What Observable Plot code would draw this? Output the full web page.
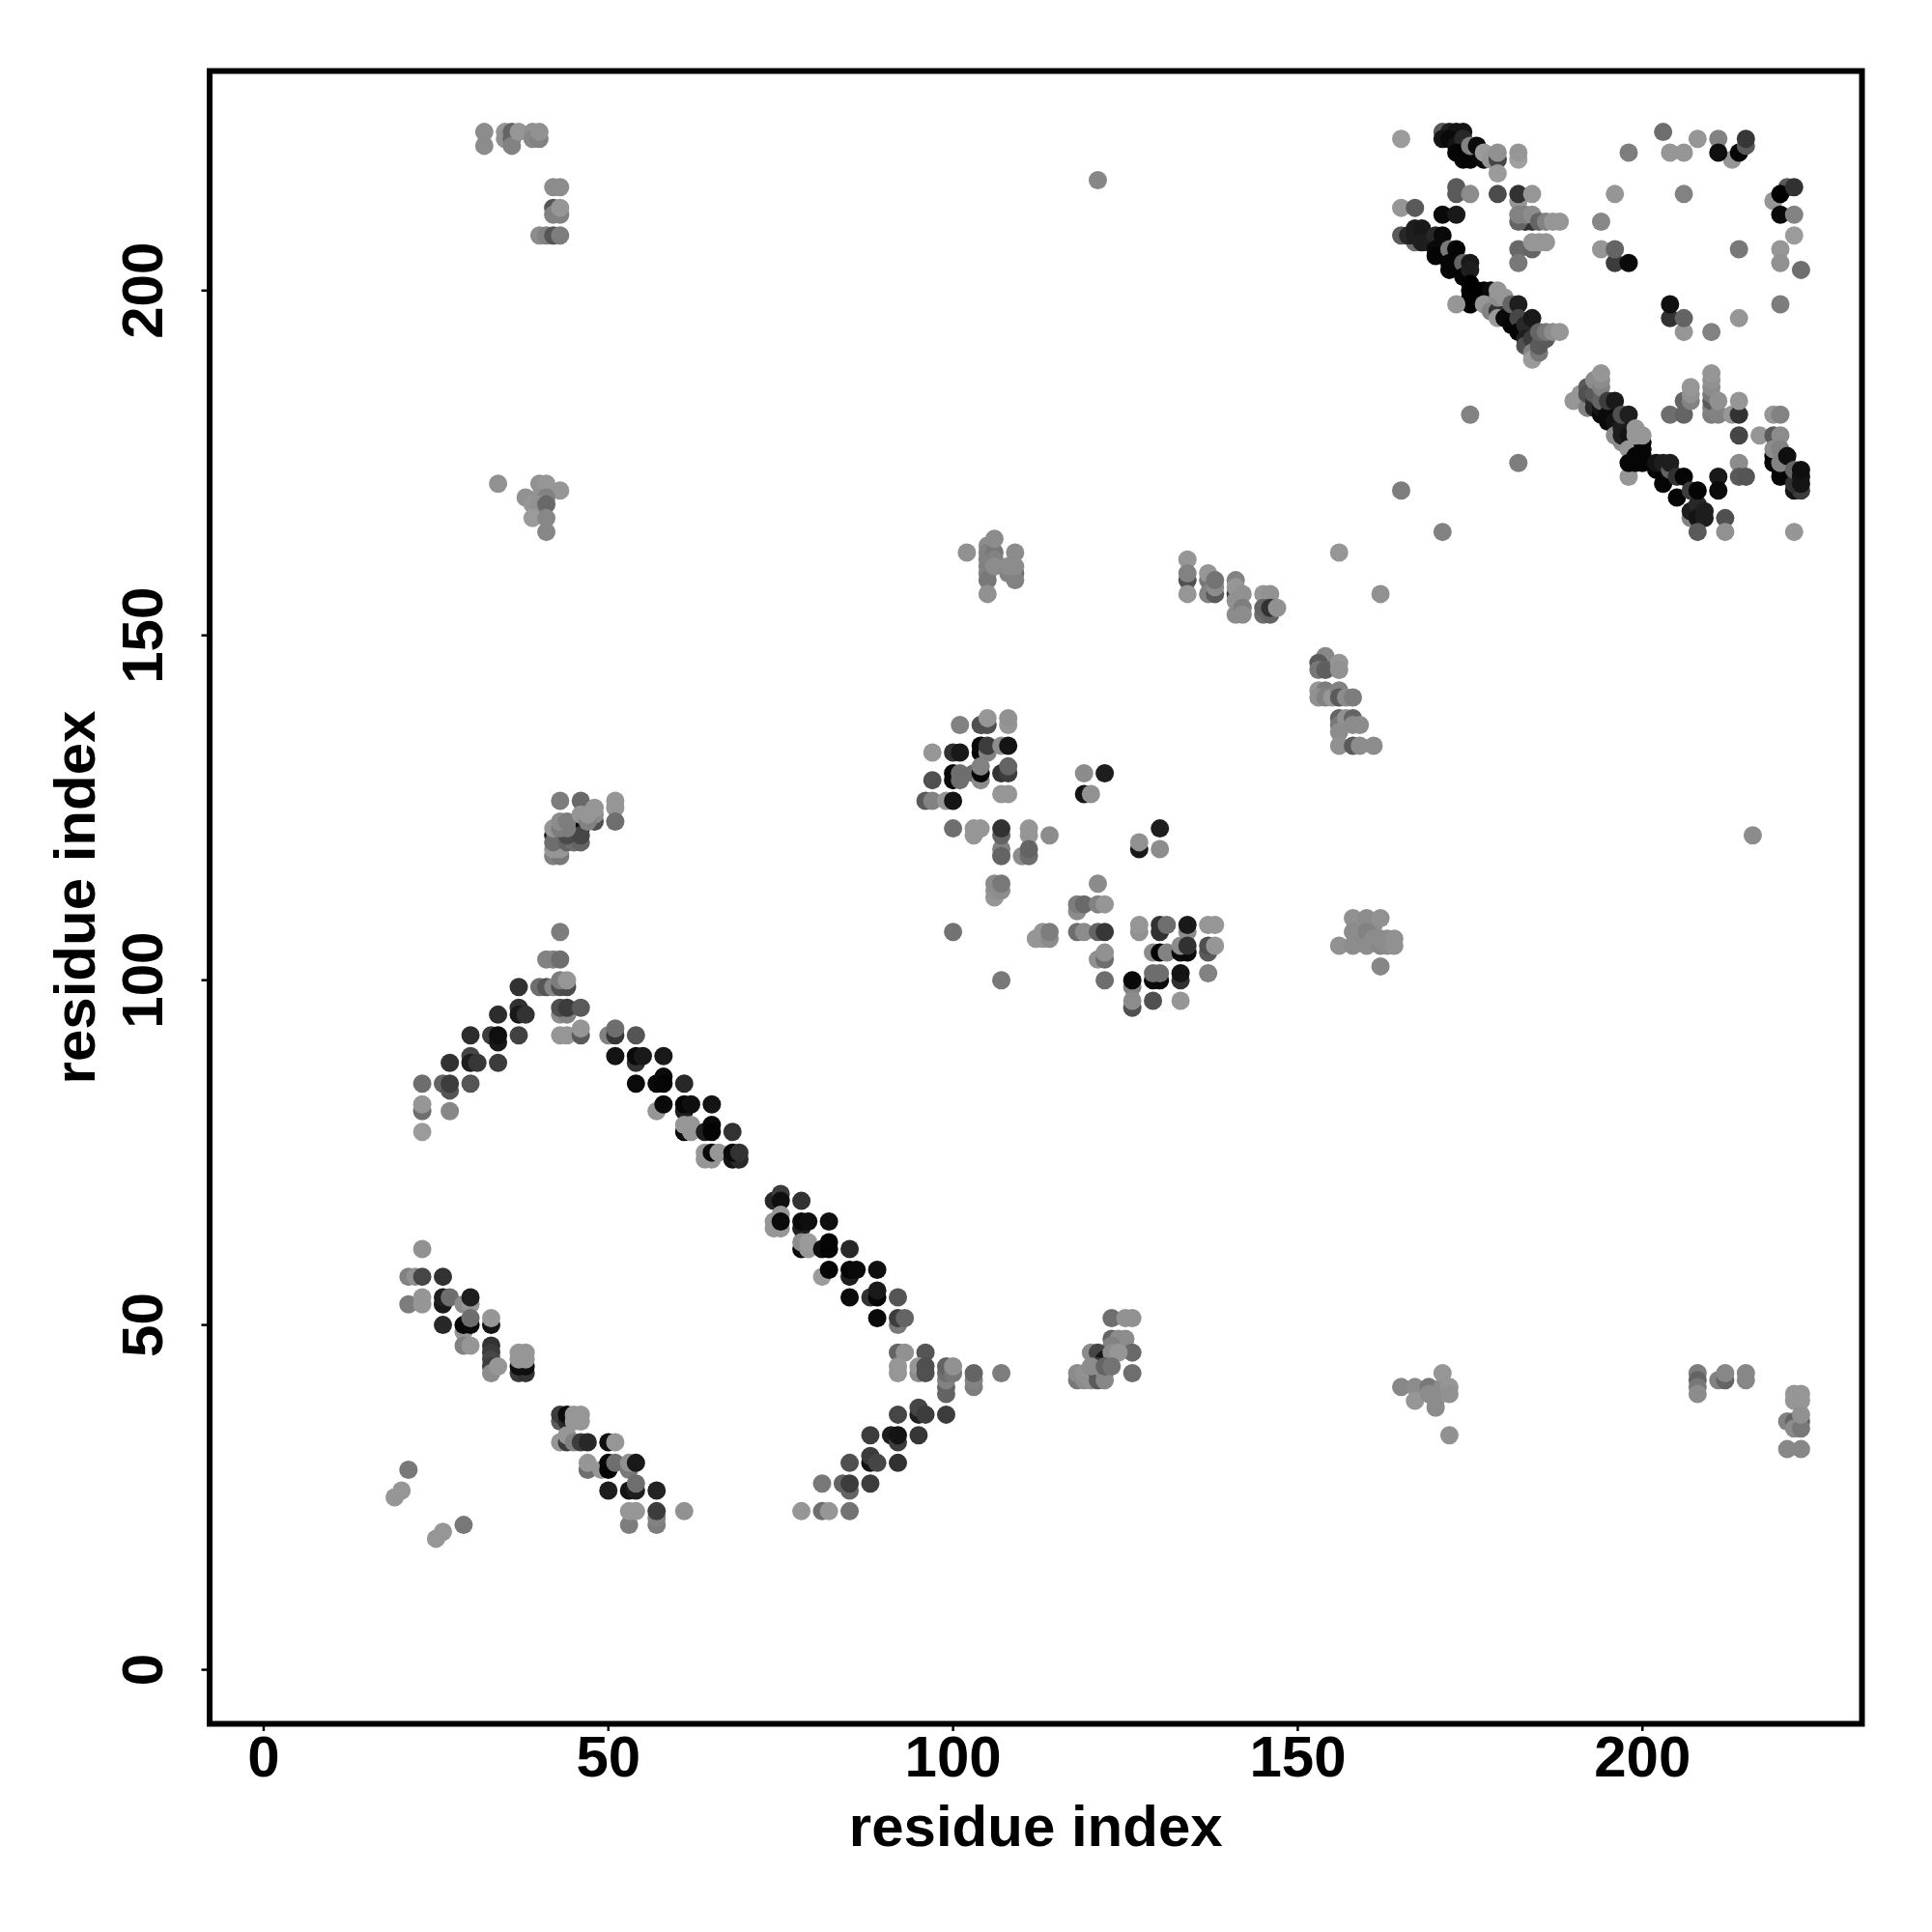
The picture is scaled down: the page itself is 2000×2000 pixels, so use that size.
<!DOCTYPE html>
<html>
<head>
<meta charset="utf-8">
<script src="https://cdn.jsdelivr.net/npm/d3@7"></script>
<script src="https://cdn.jsdelivr.net/npm/@observablehq/plot@0.6"></script>
<style>html,body{margin:0;padding:0;background:#fff}</style>
</head>
<body>
<div id="chart"></div>
<script>
// each entry: [residue i, residue j, distance signal (0 = strongest contact, 155 = weakest)]
const tickValues = [0, 50, 100, 150, 200];
const axisLabel = "residue index";

const topLeftA = [[32,223,140],[32,221,140],[35,223,150],[35,222,145],[36,223,100],[36,222,100],[36,221,130],[37,223,150],[39,223,145],[39,222,135],[40,222,130],[40,223,145],[42,215,140],[43,215,140],[42,212,85],[42,211,130],[43,211,130],[43,212,150],[40,208,140],[41,208,130],[42,208,85],[43,208,125]];
const topLeftB = [[34,172,145],[40,172,145],[41,172,150],[43,171,150],[38,170,145],[40,170,145],[41,170,130],[39,169,150],[40,169,145],[41,169,105],[39,167,155],[41,167,135],[41,165,135]];
const helixCorner = [[165,222,155],[171,223,90],[172,223,30],[173,223,20],[174,223,20],[171,222,20],[172,222,10],[173,221,20],[174,222,40],[173,220,5],[174,219,5],[175,219,5],[176,220,10],[175,221,130],[176,221,10],[177,219,10],[177,220,155],[178,219,150],[179,219,70],[179,220,145],[179,217,155],[182,219,160],[182,220,150],[173,215,90],[173,214,90],[175,214,140],[179,214,75],[182,213,150],[182,214,50],[184,214,150],[165,212,150],[167,212,90],[171,211,10],[173,211,25],[183,210,50],[184,210,50],[182,210,100],[182,211,130],[183,211,130],[184,211,140],[185,210,100],[186,210,130],[187,210,150],[188,210,150],[182,206,105],[184,206,100],[182,204,120],[184,207,150],[185,207,150],[186,207,150]];
const diagonalUpper = [[165,208,90],[167,207,110],[166,208,40],[167,208,30],[168,208,30],[167,209,30],[168,209,25],[168,207,30],[169,207,30],[170,208,40],[171,208,10],[170,206,10],[170,205,5],[172,206,120],[173,206,5],[172,204,5],[172,203,5],[174,204,100],[174,202,5],[175,204,25],[175,203,30],[175,201,0],[175,200,0],[175,199,0],[175,198,0],[176,200,0],[177,200,0],[178,200,10],[173,198,150],[177,198,150],[178,197,130],[179,197,50],[179,199,140],[179,200,150],[180,199,150],[179,196,155],[180,196,10],[181,195,5],[181,198,100],[182,198,30],[182,196,70],[182,194,5],[183,195,40],[183,193,30],[183,192,80],[184,196,25],[184,193,60],[184,191,130],[184,190,155],[185,191,120],[185,192,90],[186,193,90],[185,194,100],[186,194,120],[187,194,140],[188,194,150]];
const topRight = [[194,210,135],[198,220,125],[203,223,110],[208,222,150],[211,222,130],[204,220,150],[206,220,150],[213,219,150],[211,220,15],[214,220,5],[215,221,90],[215,222,55],[196,214,150],[206,214,130],[194,206,150],[196,204,60],[196,206,100],[198,204,10],[214,206,120],[206,194,150],[204,196,50],[206,196,100],[204,198,15],[210,194,130],[214,196,150],[219,213,150],[221,215,90],[220,214,0],[222,215,50],[220,211,10],[222,211,130],[222,208,155],[220,206,150],[220,204,145],[223,203,110],[220,198,125]];
const diagonalLower = [[190,184,150],[191,185,150],[192,183,130],[192,186,90],[192,185,80],[193,184,50],[193,183,40],[193,185,90],[193,187,140],[194,182,10],[194,183,20],[194,184,100],[194,186,130],[194,187,140],[194,188,150],[195,181,10],[195,182,10],[195,184,60],[196,184,25],[196,181,20],[196,179,140],[197,178,140],[197,179,30],[197,180,30],[197,182,80],[198,182,30],[198,179,20],[198,173,150],[198,177,150],[199,176,5],[199,175,5],[198,175,5],[200,178,5],[200,177,5],[200,176,5],[200,175,5],[199,180,150],[199,179,150],[200,179,150],[202,174,5],[202,175,20],[203,172,5],[203,175,30],[204,174,100],[204,175,30],[205,170,5],[205,173,50],[206,173,5],[207,167,130],[207,168,30],[207,171,60],[208,169,40],[208,167,20],[208,171,5],[209,168,30],[209,167,30],[208,165,90]];
const rightOfDiagonal = [[175,182,130],[182,175,125],[165,171,125],[171,165,130],[162,156,145],[156,162,150],[121,216,135],[216,121,140],[211,173,25],[211,171,10],[212,167,80],[212,165,145],[214,175,140],[214,173,90],[215,173,85],[222,165,150],[204,182,110],[206,182,100],[206,184,100],[207,184,130],[207,185,145],[207,186,150],[210,182,125],[210,183,130],[210,184,90],[210,185,120],[210,186,140],[210,187,145],[210,188,150],[211,182,130],[211,184,145],[213,182,150],[214,182,50],[214,184,150],[214,179,70],[217,179,150],[219,182,150],[220,182,130],[219,179,90],[220,179,140],[219,176,5],[219,175,5],[219,177,140],[220,174,10],[220,173,5],[220,175,130],[220,177,130],[221,176,15],[222,171,20],[223,171,60],[222,172,50],[222,174,100],[223,172,20],[223,173,20],[223,174,15]];
const midTop = [[102,162,145],[105,163,140],[105,162,130],[105,161,130],[105,160,130],[105,159,130],[105,158,120],[105,156,145],[106,162,120],[106,161,130],[106,160,140],[106,164,140],[109,162,140],[108,159,130],[109,159,110],[109,158,130],[108,160,140],[109,160,140],[134,161,150],[134,158,80],[134,159,130],[134,156,150],[137,158,120],[137,159,150],[137,156,130],[138,156,90],[138,157,140],[138,158,115],[141,156,60],[141,158,130],[141,157,150],[141,155,145],[142,156,145],[141,153,140],[142,154,125],[142,153,140],[145,156,150],[146,156,145],[145,153,110],[146,153,100],[145,154,100],[146,154,50],[147,154,145]];
const midCenter = [[101,137,130],[104,137,80],[105,137,80],[105,138,150],[108,137,150],[108,138,145],[97,133,150],[100,133,50],[101,133,25],[104,133,5],[104,134,10],[105,133,130],[105,134,60],[107,134,140],[108,134,20],[100,130,10],[100,129,10],[101,129,110],[101,130,110],[103,130,110],[104,129,140],[104,130,5],[104,131,130],[107,130,50],[108,130,60],[108,131,100],[107,127,150],[108,127,150],[97,129,80],[96,126,90],[97,126,130],[99,126,150],[100,126,20],[100,122,110],[103,121,150],[103,122,150],[104,122,150],[107,119,130],[107,118,100],[107,121,100],[107,122,50],[111,121,150],[111,122,150],[114,121,140],[110,118,140],[111,118,110],[111,119,100],[106,112,150],[106,113,145],[107,113,140],[106,114,140],[107,114,120],[100,107,115],[107,100,120],[112,106,150],[113,106,150],[113,107,150],[114,106,140],[114,107,125]];
const midRight = [[119,130,140],[122,130,30],[119,127,20],[120,127,145],[121,114,140],[118,110,140],[118,111,125],[119,111,105],[121,111,130],[122,111,150],[118,107,110],[119,107,140],[121,107,100],[122,107,55],[121,103,145],[122,103,110],[122,104,145],[122,100,110],[127,119,25],[127,120,145],[130,122,30],[130,119,140],[127,107,145],[127,108,150],[130,107,50],[130,108,50],[131,108,110],[134,107,140],[134,108,25],[137,108,150],[138,108,150],[129,104,140],[130,104,0],[131,104,130],[133,104,10],[134,104,10],[133,105,140],[134,105,50],[137,104,90],[137,105,80],[138,105,150],[137,101,130],[129,100,10],[130,100,10],[129,101,110],[130,101,110],[133,100,50],[133,101,20],[126,99,130],[126,100,10],[126,96,80],[126,97,140],[129,97,80],[133,97,150]];
const sheetCluster = [[154,146,30],[154,147,135],[153,146,90],[153,145,120],[154,145,95],[156,146,150],[156,145,145],[153,142,150],[154,142,125],[153,141,145],[154,141,130],[155,141,150],[156,142,130],[156,141,90],[157,141,140],[158,141,125],[156,138,100],[156,137,120],[157,138,145],[158,138,100],[158,137,140],[159,137,140],[156,136,140],[156,134,145],[158,134,90],[159,134,140],[161,134,140]];
const lowerMidCluster = [[158,109,145],[159,108,145],[160,109,140],[161,108,140],[162,109,145],[158,107,140],[159,106,140],[160,107,130],[156,105,145],[158,105,140],[160,105,140],[161,106,140],[162,105,135],[162,106,140],[163,105,140],[163,106,140],[164,105,145],[164,106,145],[162,102,135]];
const apexCluster = [[42,121,20],[43,121,30],[45,121,30],[46,122,15],[43,126,125],[46,126,105],[51,126,150],[51,125,150],[51,123,110],[48,123,80],[48,124,140],[48,125,150],[42,118,130],[43,118,120],[42,119,150],[43,119,150],[42,120,110],[44,120,100],[45,120,110],[46,120,100],[44,121,75],[46,121,70],[42,122,150],[43,122,125],[44,122,125],[43,123,140],[44,123,125],[46,124,150],[47,123,130],[47,124,150]];
const apexLower = [[43,107,125],[41,103,130],[42,103,130],[43,103,110],[37,99,50],[40,99,110],[41,99,85],[42,99,135],[43,99,80],[44,99,75],[43,100,125],[44,100,150],[43,95,140],[44,95,130],[43,96,80],[44,96,60],[46,96,90],[43,92,150],[44,92,150],[46,92,90],[46,93,150]];
const armLeft = [[34,95,45],[37,96,50],[37,95,25],[38,95,50],[30,92,45],[33,92,60],[34,91,25],[34,92,15],[37,92,65],[27,88,50],[30,89,70],[30,88,30],[31,88,55],[34,88,60],[23,85,110],[26,85,100],[27,84,85],[27,85,60],[30,85,85],[23,81,110],[23,82,150],[27,81,135],[23,78,155]];
const armRight = [[50,92,130],[51,92,55],[51,93,110],[54,92,85],[51,89,20],[54,88,50],[54,89,10],[55,89,25],[58,89,25],[54,85,10],[57,85,10],[58,86,10],[58,85,5],[61,85,40],[57,81,150],[58,82,10],[61,81,30],[61,82,5],[62,82,15],[65,82,20],[61,78,10],[61,79,150],[62,78,150],[62,79,150],[64,78,30],[65,79,10],[65,78,5],[68,78,50],[64,74,150],[65,74,150],[64,75,150],[65,75,10],[66,75,150],[68,74,20],[69,74,40],[68,75,10],[69,75,50]];
const lowerDiagonal = [[74,68,40],[75,69,60],[75,68,15],[78,68,50],[74,64,150],[74,65,150],[75,64,150],[75,66,150],[75,65,10],[78,64,30],[78,65,10],[79,65,15],[82,65,15],[78,61,10],[78,62,140],[79,61,150],[79,62,155],[81,61,15],[82,62,5],[82,61,5],[85,61,40],[81,57,155],[82,58,5],[85,57,30],[85,58,5],[86,58,10],[89,58,15],[85,54,10],[88,54,50],[89,54,5],[89,55,25],[92,54,85],[89,51,10],[92,50,120],[92,51,60],[93,51,100]];
const returnArm = [[92,46,100],[93,46,145],[96,46,85],[92,43,150],[92,44,150],[95,43,140],[95,44,150],[96,43,80],[96,44,80],[99,40,100],[99,41,100],[99,42,130],[99,43,110],[99,44,100],[100,43,120],[100,44,145],[103,41,125],[103,42,130],[103,43,100],[107,43,125],[92,37,70],[95,37,30],[95,38,70],[96,37,60],[99,37,60],[88,34,60],[91,34,30],[92,33,60],[92,34,20],[95,34,55],[85,30,80],[88,30,20],[88,31,60],[89,30,70],[92,30,50],[81,27,120],[84,27,100],[85,26,100],[85,27,60],[88,27,60],[78,23,150],[81,23,110],[82,23,150],[85,23,115]];
const lowerSmallA = [[123,51,110],[125,51,145],[126,51,145],[123,48,100],[124,48,140],[125,48,140],[123,47,130],[126,46,105],[120,46,140],[121,46,70],[122,45,20],[123,46,140],[124,46,150],[118,42,120],[119,42,140],[118,43,140],[119,43,145],[120,42,145],[121,43,30],[121,44,60],[121,42,90],[122,43,140],[122,42,135],[120,44,140],[122,44,100],[123,44,115],[126,43,110]];
const lowerSmallB = [[165,41,135],[167,41,140],[167,39,150],[169,41,120],[169,40,140],[170,39,140],[170,38,140],[171,41,140],[171,43,150],[172,41,150],[172,40,145],[172,34,145],[208,43,125],[208,42,100],[208,41,120],[208,40,140],[211,42,130],[212,42,100],[212,43,135],[215,42,135],[215,43,135],[222,40,150],[223,40,150],[222,39,150],[223,39,150],[221,36,130],[222,36,100],[223,36,100],[222,35,140],[223,35,120],[223,37,145],[221,32,135],[223,32,135]];
const betaLeft = [[23,61,145],[21,57,130],[22,57,145],[23,57,70],[26,57,50],[21,53,125],[23,53,150],[23,54,150],[26,53,25],[26,54,30],[27,54,110],[29,53,140],[30,53,150],[30,54,30],[29,49,150],[26,50,40],[29,50,10],[30,50,10],[30,51,110],[33,50,20],[33,51,150],[29,47,130],[30,47,150],[33,47,50],[33,46,60],[33,45,70],[33,44,60],[33,43,140],[34,44,150],[37,43,60],[38,43,50],[37,44,15],[38,44,15],[37,45,150],[38,45,150],[37,46,150],[38,46,150],[21,29,120],[20,26,150],[19,25,150],[29,21,120],[26,20,150],[25,19,150]];
const betaMiddle = [[43,36,90],[43,37,60],[44,36,40],[44,37,10],[45,36,150],[45,37,150],[46,36,150],[46,37,150],[43,33,150],[44,33,60],[44,34,150],[45,33,130],[46,33,60],[47,33,40],[50,33,15],[51,33,150],[47,29,110],[47,30,150],[49,29,150],[50,29,5],[50,30,5],[51,30,110],[53,29,120],[53,30,145],[54,30,25],[50,26,30],[53,26,20],[54,26,30],[54,27,110],[57,26,35],[53,21,125],[53,23,150],[54,23,150],[57,21,125],[57,22,130],[57,23,60],[61,23,145]];

const contacts = [
  ...topLeftA, ...topLeftB, ...helixCorner, ...diagonalUpper, ...topRight,
  ...diagonalLower, ...rightOfDiagonal, ...midTop, ...midCenter, ...midRight,
  ...sheetCluster, ...lowerMidCluster, ...apexCluster, ...apexLower, ...armLeft,
  ...armRight, ...lowerDiagonal, ...returnArm, ...lowerSmallA, ...lowerSmallB,
  ...betaLeft, ...betaMiddle
].map(([i, j, signal]) => ({i, j, signal}));

const chart = Plot.plot({
  width: 2000,
  height: 2000,
  marginLeft: 216.5,
  marginRight: 73,
  marginTop: 73,
  marginBottom: 216,
  style: {fontFamily: "'Liberation Sans', Arial, sans-serif", background: "#fff", color: "#000"},
  x: {domain: [-7.84, 231.84]},
  y: {domain: [-7.84, 231.84]},
  color: {type: "linear", domain: [0, 155], range: ["#000000", "#9b9b9b"]},
  marks: [
    Plot.dot(contacts, {x: "i", y: "j", r: 9.5, fill: "signal", stroke: "none"}),
    Plot.frame({stroke: "#000", strokeWidth: 6}),
    Plot.axisX({ticks: tickValues, tickSize: 8, tickPadding: 4, strokeWidth: 2.5, fontSize: 60, fontWeight: "bold",
      label: axisLabel, labelAnchor: "center", labelArrow: "none", labelOffset: 126, tickFormat: d => String(d)}),
    Plot.axisY({ticks: tickValues, tickSize: 8, tickPadding: 41, strokeWidth: 2.5, fontSize: 60, fontWeight: "bold", tickRotate: -90,
      label: axisLabel, labelAnchor: "center", labelArrow: "none", labelOffset: 162, tickFormat: d => String(d)})
  ]
});
document.getElementById("chart").appendChild(chart);
</script>
</body>
</html>
